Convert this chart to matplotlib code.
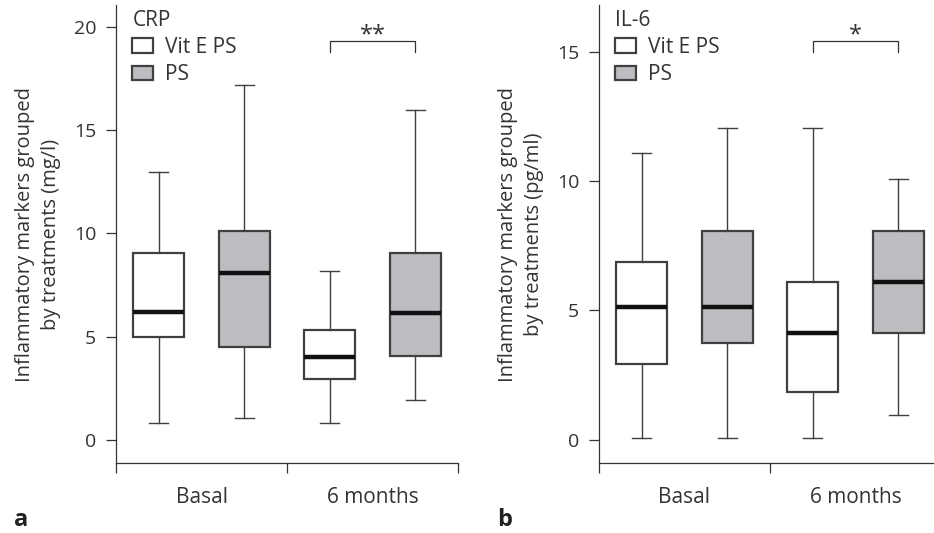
import matplotlib.pyplot as plt
from matplotlib.patches import Patch

plt.rcParams['font.family'] = ['Open Sans', 'DejaVu Sans']

groups = ['Basal', '6 months']
series = ['Vit E PS', 'PS']
colors = ['white', '#bcbdc0']

# whisker low, Q1, median, Q3, whisker high  (order: Basal VitE, Basal PS, 6m VitE, 6m PS)
crp_stats = [
    [0.85, 4.97, 6.2, 9.05, 13.0],
    [1.05, 4.52, 8.07, 10.14, 17.2],
    [0.85, 2.95, 4.04, 5.33, 8.2],
    [1.95, 4.08, 6.15, 9.07, 16.0],
]
il6_stats = [
    [0.05, 2.92, 5.12, 6.86, 11.07],
    [0.05, 3.73, 5.12, 8.08, 12.06],
    [0.05, 1.84, 4.14, 6.09, 12.06],
    [0.97, 4.14, 6.09, 8.08, 10.08],
]

panels = [
    dict(name='CRP', stats=crp_stats, ylim=(-1.11, 21.06), yticks=[0, 5, 10, 15, 20],
         ylabel='Inflammatory markers grouped\nby treatments (mg/l)',
         sig='**', bracket=(19.3, 18.8), letter='a'),
    dict(name='IL-6', stats=il6_stats, ylim=(-0.9, 16.8), yticks=[0, 5, 10, 15],
         ylabel='Inflammatory markers grouped\nby treatments (pg/ml)',
         sig='*', bracket=(15.39, 15.0), letter='b'),
]

positions = [0.25, 0.75, 1.25, 1.75]
edge = '#404040'
ink = '#333333'

fig = plt.figure(figsize=(9.34, 5.33), dpi=100)
lefts = [116 / 934, 599 / 934]

for p, left in zip(panels, lefts):
    ax = fig.add_axes([left, 1 - 463 / 533, 342 / 934, 458 / 533])
    bstats = []
    for s in p['stats']:
        bstats.append(dict(whislo=s[0], q1=s[1], med=s[2], q3=s[3], whishi=s[4], fliers=[]))
    bp = ax.bxp(bstats, positions=positions, widths=0.3, capwidths=0.11,
                patch_artist=True, showfliers=False,
                boxprops=dict(edgecolor=edge, linewidth=1.6),
                medianprops=dict(color='#111111', linewidth=3.2, solid_capstyle='butt'),
                whiskerprops=dict(color=edge, linewidth=1.0),
                capprops=dict(color=edge, linewidth=1.0))
    for i, box in enumerate(bp['boxes']):
        box.set_facecolor(colors[i % 2])

    ax.set_xlim(0, 2)
    ax.set_ylim(*p['ylim'])
    ax.set_yticks(p['yticks'])
    ax.tick_params(axis='y', direction='out', length=7.2, width=0.9, colors=ink,
                   labelsize=14, labelcolor=ink, pad=7)
    ax.set_xticks([0, 1, 2])
    ax.set_xticklabels([])
    ax.set_xticks([0.5, 1.5], minor=True)
    ax.set_xticklabels(groups, minor=True, fontsize=15, color=ink)
    ax.tick_params(axis='x', which='major', direction='out', length=7.2, width=0.9, colors=ink)
    ax.tick_params(axis='x', which='minor', length=0, pad=17)
    for side in ['top', 'right']:
        ax.spines[side].set_visible(False)
    for side in ['left', 'bottom']:
        ax.spines[side].set_color(ink)
        ax.spines[side].set_linewidth(0.9)
    ax.set_ylabel(p['ylabel'], fontsize=14.5, color=ink, linespacing=1.45, labelpad=9)

    # significance bracket between the 6 month boxes
    top, low = p['bracket']
    x1, x2 = positions[2], positions[3]
    ax.plot([x1, x1, x2, x2], [low, top, top, low], color=ink, linewidth=0.9)
    ax.annotate(p['sig'], xy=((x1 + x2) / 2, top), xytext=(0, -4),
                textcoords='offset points', ha='center', va='bottom', fontsize=17, color=ink)

    handles = [Patch(facecolor=c, edgecolor=edge, linewidth=1.6) for c in colors]
    leg = ax.legend(handles, series, title=p['name'], loc='upper left',
                    bbox_to_anchor=(0.048, 0.99), frameon=False, fontsize=15,
                    title_fontsize=15, alignment='left', handlelength=1.0,
                    handleheight=0.67, handletextpad=0.58, labelspacing=0.3,
                    borderaxespad=0, borderpad=0)
    for t in leg.get_texts():
        t.set_color(ink)
    leg.get_title().set_color(ink)

    fig.text(left - 102 / 934, 0.014, p['letter'], fontsize=17, fontweight='bold', color='#222222')

fig.savefig('out.png', dpi=100)
